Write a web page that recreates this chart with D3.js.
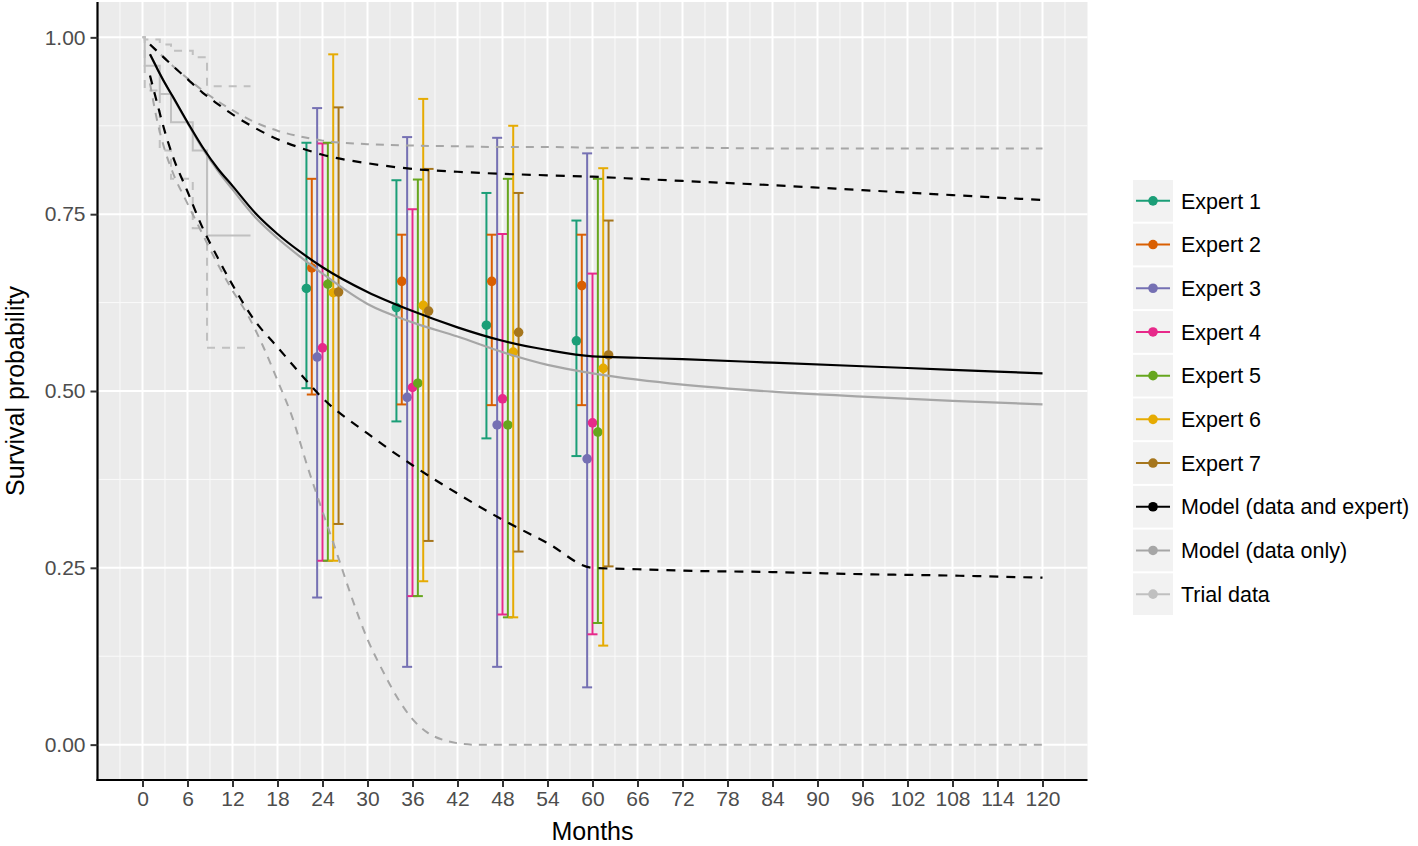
<!DOCTYPE html>
<html>
<head>
<meta charset="utf-8">
<script src="https://cdn.jsdelivr.net/npm/d3@7"></script>
<style>
  html, body { margin: 0; padding: 0; background: #ffffff; }
  svg { display: block; font-family: "Liberation Sans", Arial, Helvetica, sans-serif; }
</style>
</head>
<body>
<svg id="chart" width="1418" height="846"></svg>
<script>
// ---------------- DATA ----------------
const xTicks = [0,6,12,18,24,30,36,42,48,54,60,66,72,78,84,90,96,102,108,114,120];
const yTicks = [0, 0.25, 0.5, 0.75, 1.0];
const yTickLabels = ["0.00","0.25","0.50","0.75","1.00"];

const expertNames = ["Expert 1","Expert 2","Expert 3","Expert 4","Expert 5","Expert 6","Expert 7"];
const expertColors = ["#1B9E77","#D95F02","#7570B3","#E7298A","#66A61E","#E6AB02","#A6761D"];
const expertTimes = [24, 36, 48, 60];
const expertMid = [
  [0.645, 0.618, 0.593, 0.571],
  [0.674, 0.655, 0.655, 0.649],
  [0.548, 0.491, 0.452, 0.404],
  [0.561, 0.505, 0.489, 0.455],
  [0.651, 0.511, 0.452, 0.442],
  [0.639, 0.621, 0.555, 0.532],
  [0.640, 0.613, 0.583, 0.551]
];
const expertLow = [
  [0.504, 0.457, 0.433, 0.408],
  [0.495, 0.481, 0.480, 0.480],
  [0.208, 0.110, 0.110, 0.081],
  [0.260, 0.210, 0.184, 0.156],
  [0.260, 0.210, 0.180, 0.172],
  [0.260, 0.231, 0.180, 0.140],
  [0.312, 0.288, 0.273, 0.252]
];
const expertHigh = [
  [0.851, 0.798, 0.780, 0.741],
  [0.800, 0.721, 0.721, 0.721],
  [0.900, 0.859, 0.858, 0.836],
  [0.850, 0.757, 0.722, 0.666],
  [0.851, 0.799, 0.800, 0.800],
  [0.976, 0.913, 0.875, 0.815],
  [0.901, 0.814, 0.780, 0.741]
];

// Model curves
const modelTimes = [1,2,3,4,6,8,10,12,15,18,21,24,30,36,42,48,54,60,66,72,84,96,108,120];
const modelExpertMean  = [0.976,0.955,0.935,0.917,0.880,0.845,0.815,0.790,0.752,0.722,0.697,0.675,0.640,0.613,0.590,0.571,0.558,0.549,0.547,0.545,0.540,0.535,0.530,0.525];
const modelExpertUpper = [0.990,0.980,0.970,0.960,0.941,0.922,0.906,0.891,0.872,0.856,0.844,0.834,0.822,0.814,0.810,0.807,0.805,0.803,0.800,0.797,0.791,0.784,0.777,0.770];
const modelExpertLower = [0.946,0.905,0.866,0.833,0.782,0.731,0.689,0.650,0.599,0.562,0.525,0.490,0.440,0.395,0.355,0.318,0.285,0.250,0.248,0.246,0.244,0.241,0.239,0.236];
const modelDataMean    = [0.976,0.955,0.935,0.916,0.879,0.843,0.812,0.785,0.746,0.716,0.690,0.666,0.623,0.597,0.577,0.555,0.537,0.525,0.516,0.509,0.499,0.492,0.486,0.481];
const modelDataUpper   = [0.990,0.980,0.970,0.960,0.942,0.925,0.910,0.897,0.880,0.868,0.860,0.854,0.849,0.847,0.846,0.845,0.845,0.844,0.844,0.844,0.843,0.843,0.843,0.843];
const modelDataLowerTimes = [1,2,3,4,6,8,10,12,14,16,18,20,22,24,26,28,30,32,34,36,38,40,42,44,48,60,120];
const modelDataLower   = [0.935,0.880,0.840,0.810,0.765,0.722,0.680,0.642,0.608,0.565,0.515,0.462,0.393,0.330,0.268,0.205,0.149,0.105,0.066,0.036,0.017,0.007,0.002,0,0,0,0];

// Trial data (Kaplan-Meier) with confidence limits
const kmTimes = [0, 0.3, 2.3, 3.8, 6.7, 8.6, 14.4];
const kmSurv  = [1.0, 0.96, 0.92, 0.88, 0.84, 0.72, 0.72];
const kmUpper = [1.0, 0.997, 0.99, 0.981, 0.972, 0.931, 0.931];
const kmLower = [1.0, 0.925, 0.84, 0.80, 0.73, 0.561, 0.561];

const legendLabels = expertNames.concat(["Model (data and expert)","Model (data only)","Trial data"]);
const modelExpertColor = "#000000";
const modelDataColor = "#a6a6a6";
const trialColor = "#c0c0c0";
const legendColors = expertColors.concat([modelExpertColor, modelDataColor, trialColor]);

// ---------------- LAYOUT ----------------
const svg = d3.select("#chart");
const panel = {left: 97.5, right: 1087.5, top: 2, bottom: 780};

const x = d3.scaleLinear().domain([-6, 126]).range([panel.left, panel.right]);
const y = d3.scaleLinear().domain([-0.05, 1.05]).range([panel.bottom, panel.top]);

// panel background
svg.append("rect").attr("x", panel.left).attr("y", panel.top)
  .attr("width", panel.right - panel.left).attr("height", panel.bottom - panel.top)
  .attr("fill", "#EBEBEB");

const grid = svg.append("g");
// minor grid
const xMinor = d3.range(-3, 126, 6);
const yMinor = [0.125, 0.375, 0.625, 0.875];
grid.selectAll(".xminor").data(xMinor).enter().append("line")
  .attr("x1", d => x(d)).attr("x2", d => x(d)).attr("y1", panel.top).attr("y2", panel.bottom)
  .attr("stroke", "#fafafa").attr("stroke-width", 1);
grid.selectAll(".yminor").data(yMinor).enter().append("line")
  .attr("y1", d => y(d)).attr("y2", d => y(d)).attr("x1", panel.left).attr("x2", panel.right)
  .attr("stroke", "#fafafa").attr("stroke-width", 1);
// major grid
grid.selectAll(".xmajor").data(xTicks).enter().append("line")
  .attr("x1", d => x(d)).attr("x2", d => x(d)).attr("y1", panel.top).attr("y2", panel.bottom)
  .attr("stroke", "#ffffff").attr("stroke-width", 2);
grid.selectAll(".ymajor").data(yTicks).enter().append("line")
  .attr("y1", d => y(d)).attr("y2", d => y(d)).attr("x1", panel.left).attr("x2", panel.right)
  .attr("stroke", "#ffffff").attr("stroke-width", 2);

// ---------------- MARKS ----------------
const plot = svg.append("g");

// Expert error bars (dodged)
const dodge = 5; // months
const nE = expertNames.length;
const capHalf = 5;
expertNames.forEach((name, i) => {
  const g = plot.append("g");
  const off = (i - (nE - 1) / 2) * dodge / nE;
  const rows = expertTimes.map((t, j) => ({t: t + off, m: expertMid[i][j], lo: expertLow[i][j], hi: expertHigh[i][j]}));
  g.selectAll(".v").data(rows).enter().append("line")
    .attr("x1", d => x(d.t)).attr("x2", d => x(d.t))
    .attr("y1", d => y(d.lo)).attr("y2", d => y(d.hi))
    .attr("stroke", expertColors[i]).attr("stroke-width", 2);
  g.selectAll(".ch").data(rows).enter().append("line")
    .attr("x1", d => x(d.t) - capHalf).attr("x2", d => x(d.t) + capHalf)
    .attr("y1", d => y(d.hi)).attr("y2", d => y(d.hi))
    .attr("stroke", expertColors[i]).attr("stroke-width", 2);
  g.selectAll(".cl").data(rows).enter().append("line")
    .attr("x1", d => x(d.t) - capHalf).attr("x2", d => x(d.t) + capHalf)
    .attr("y1", d => y(d.lo)).attr("y2", d => y(d.lo))
    .attr("stroke", expertColors[i]).attr("stroke-width", 2);
  g.selectAll(".p").data(rows).enter().append("circle")
    .attr("cx", d => x(d.t)).attr("cy", d => y(d.m)).attr("r", 4.8)
    .attr("fill", expertColors[i]);
});

// Lines
const smooth = d3.line().x(d => x(d[0])).y(d => y(d[1])).curve(d3.curveMonotoneX);
const step = d3.line().x(d => x(d[0])).y(d => y(d[1])).curve(d3.curveStepAfter);
const zip = (a, b) => a.map((v, k) => [v, b[k]]);

// Trial data KM
plot.append("path").attr("d", step(zip(kmTimes, kmUpper)))
  .attr("fill", "none").attr("stroke", trialColor).attr("stroke-width", 2).attr("stroke-dasharray", "8,7");
plot.append("path").attr("d", step(zip(kmTimes, kmLower)))
  .attr("fill", "none").attr("stroke", trialColor).attr("stroke-width", 2).attr("stroke-dasharray", "8,7");
plot.append("path").attr("d", step(zip(kmTimes, kmSurv)))
  .attr("fill", "none").attr("stroke", trialColor).attr("stroke-width", 2);

// Model (data only)
plot.append("path").attr("d", smooth(zip(modelTimes, modelDataUpper)))
  .attr("fill", "none").attr("stroke", modelDataColor).attr("stroke-width", 2).attr("stroke-dasharray", "8,7");
plot.append("path").attr("d", smooth(zip(modelDataLowerTimes, modelDataLower)))
  .attr("fill", "none").attr("stroke", modelDataColor).attr("stroke-width", 2).attr("stroke-dasharray", "8,7");
plot.append("path").attr("d", smooth(zip(modelTimes, modelDataMean)))
  .attr("fill", "none").attr("stroke", modelDataColor).attr("stroke-width", 2.2);

// Model (data and expert)
plot.append("path").attr("d", smooth(zip(modelTimes, modelExpertUpper)))
  .attr("fill", "none").attr("stroke", modelExpertColor).attr("stroke-width", 2.2).attr("stroke-dasharray", "9,8");
plot.append("path").attr("d", smooth(zip(modelTimes, modelExpertLower)))
  .attr("fill", "none").attr("stroke", modelExpertColor).attr("stroke-width", 2.2).attr("stroke-dasharray", "9,8");
plot.append("path").attr("d", smooth(zip(modelTimes, modelExpertMean)))
  .attr("fill", "none").attr("stroke", modelExpertColor).attr("stroke-width", 2.2);

// ---------------- AXES ----------------
const xAxis = svg.append("g").attr("transform", `translate(0,${panel.bottom})`)
  .call(d3.axisBottom(x).tickValues(xTicks).tickSize(7).tickPadding(4).tickFormat(d3.format("d")));
xAxis.select(".domain").attr("d", `M${panel.left - 1},0H${panel.right}`).attr("stroke", "#000").attr("stroke-width", 2.2);
xAxis.selectAll(".tick line").attr("stroke", "#333333").attr("stroke-width", 2);
xAxis.selectAll(".tick text").attr("fill", "#4d4d4d").attr("font-size", 21)
  .attr("font-family", "Liberation Sans, Arial, sans-serif");

const yAxis = svg.append("g").attr("transform", `translate(${panel.left},0)`)
  .call(d3.axisLeft(y).tickValues(yTicks).tickSize(7).tickPadding(5).tickFormat((d, i) => yTickLabels[i]));
yAxis.select(".domain").attr("d", `M0,${panel.top}V${panel.bottom + 1}`).attr("stroke", "#000").attr("stroke-width", 2.2);
yAxis.selectAll(".tick line").attr("stroke", "#333333").attr("stroke-width", 2);
yAxis.selectAll(".tick text").attr("fill", "#4d4d4d").attr("font-size", 21)
  .attr("font-family", "Liberation Sans, Arial, sans-serif");

// Axis titles
svg.append("text").attr("x", (panel.left + panel.right) / 2).attr("y", 840)
  .attr("text-anchor", "middle").attr("font-size", 25).attr("fill", "#000").text("Months");
svg.append("text").attr("transform", `translate(24,${(panel.top + panel.bottom) / 2}) rotate(-90)`)
  .attr("text-anchor", "middle").attr("font-size", 25).attr("fill", "#000").text("Survival probability");

// ---------------- LEGEND ----------------
const legend = svg.append("g");
const legTop = 180, legPitch = 43.7, keyX = 1133, keyW = 40, keyH = 41.7;
legendLabels.forEach((lab, i) => {
  const cy = legTop + i * legPitch + keyH / 2;
  legend.append("rect").attr("x", keyX).attr("y", legTop + i * legPitch)
    .attr("width", keyW).attr("height", keyH).attr("fill", "#F2F2F2");
  legend.append("line").attr("x1", keyX + 3).attr("x2", keyX + 37).attr("y1", cy).attr("y2", cy)
    .attr("stroke", legendColors[i]).attr("stroke-width", 2);
  legend.append("circle").attr("cx", keyX + keyW / 2).attr("cy", cy).attr("r", 4.8).attr("fill", legendColors[i]);
  legend.append("text").attr("x", 1181).attr("y", cy).attr("dy", "0.36em")
    .attr("font-size", 21.5).attr("fill", "#000").text(lab);
});
</script>
</body>
</html>
